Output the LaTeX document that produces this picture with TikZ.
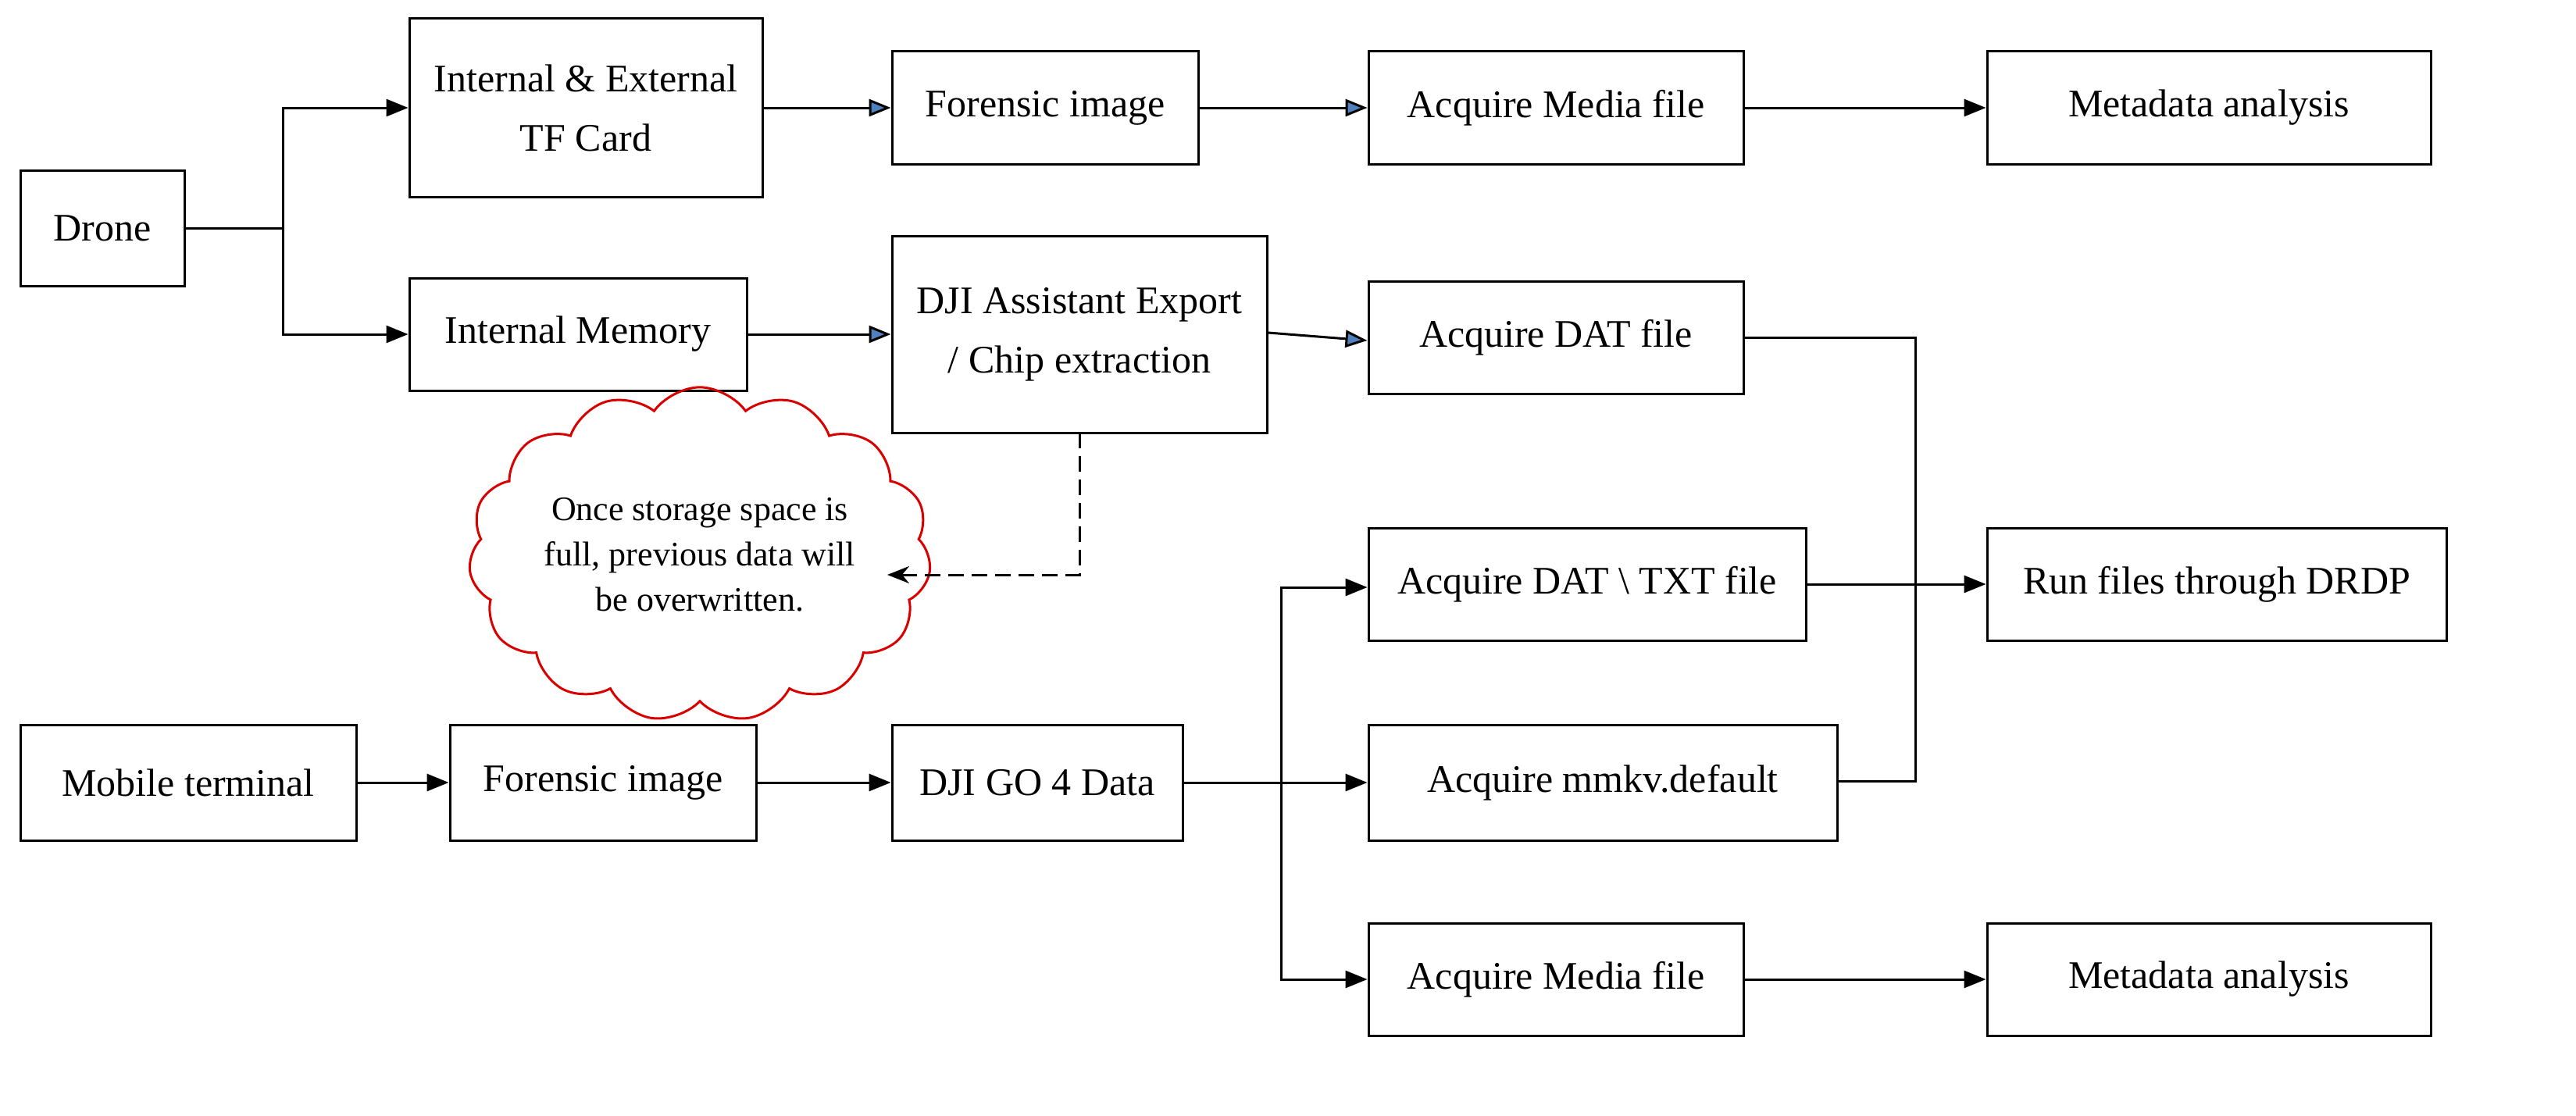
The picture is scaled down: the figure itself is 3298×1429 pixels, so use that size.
\documentclass[tikz,border=0pt]{standalone}
\usepackage{fontspec}
\setmainfont{Liberation Serif}
\usetikzlibrary{arrows.meta,shapes.symbols}
\begin{document}
\begin{tikzpicture}[x=1pt,y=-1pt,
 box/.style={draw,line width=3pt,inner sep=0pt,align=center,font=\fontsize{50}{76}\selectfont},
 ln/.style={line width=3pt},
 ba/.style={ln,-{Triangle[length=28pt,width=22pt]}},
 bl/.style={ln,-{Triangle[length=28pt,width=22pt,fill={rgb,255:red,79;green,129;blue,189}]}}]
\useasboundingbox (0,0) rectangle (3298,1429);
\def\bx#1#2#3#4#5#6{\node[box,minimum width=#4-#2,minimum height=#5-#3] (#1) at ({(#2+#4)/2},{(#3+#5)/2}) {#6};}
\bx{drone}{26}{218}{236}{366}{Drone}
\bx{tf}{524}{24}{976}{252}{Internal \& External\\TF Card}
\bx{im}{524}{356}{956}{500}{Internal Memory}
\bx{fi}{1142}{66}{1534}{210}{Forensic image}
\bx{dji}{1142}{302}{1622}{554}{DJI Assistant Export\\/ Chip extraction}
\bx{am}{1752}{66}{2232}{210}{Acquire Media file}
\bx{ma}{2544}{66}{3112}{210}{Metadata analysis}
\bx{dat}{1752}{360}{2232}{504}{Acquire DAT file}
\bx{txt}{1752}{676}{2312}{820}{Acquire DAT \textbackslash{} TXT file}
\bx{drdp}{2544}{676}{3132}{820}{Run files through DRDP}
\bx{mm}{1752}{928}{2352}{1076}{Acquire mmkv.default}
\bx{am2}{1752}{1182}{2232}{1326}{Acquire Media file}
\bx{ma2}{2544}{1182}{3112}{1326}{Metadata analysis}
\bx{mob}{26}{928}{456}{1076}{Mobile terminal}
\bx{fi2}{576}{928}{968}{1076}{Forensic image}
\bx{go}{1142}{928}{1514}{1076}{DJI GO 4 Data}
\node[cloud,draw=red!85!black,line width=3pt,cloud puffs=15,cloud puff arc=110,aspect=1.5,minimum width=490pt,minimum height=340pt,inner sep=0pt,align=center,font=\fontsize{44}{58}\selectfont] (cl) at (896,710) {Once storage space is\\full, previous data will\\be overwritten.};
\coordinate (j1) at (362,292);
\draw[ln] (drone.east) -- (j1);
\draw[ba] (j1) |- (tf.west|-0,138);
\draw[ba] (j1) |- (im.west);
\draw[bl] (tf.east|-0,138) -- (fi.west);
\draw[bl] (fi.east) -- (am.west);
\draw[ba] (am.east) -- (ma.west);
\draw[bl] (im.east) -- (dji.west|-im.east);
\draw[bl] (dji.east|-0,426) -- (dat.west|-0,436);
\draw[ln,dashed,dash pattern=on 20pt off 10pt,-{Stealth[length=28pt,width=22pt]}] (1382,554) |- (1136,736);
\draw[ln] (dat.east) -| (2452,1000) -- (mm.east|-0,1000);
\draw[ba] (txt.east) -- (drdp.west);
\draw[ba] (mob.east) -- (fi2.west);
\draw[ba] (fi2.east) -- (go.west);
\coordinate (j2) at (1640,1002);
\draw[ln] (go.east) -- (j2);
\draw[ba] (j2) |- (txt.west|-0,752);
\draw[ba] (j2) -- (mm.west|-j2);
\draw[ba] (j2) |- (am2.west);
\draw[ba] (am2.east) -- (ma2.west);
\end{tikzpicture}
\end{document}
